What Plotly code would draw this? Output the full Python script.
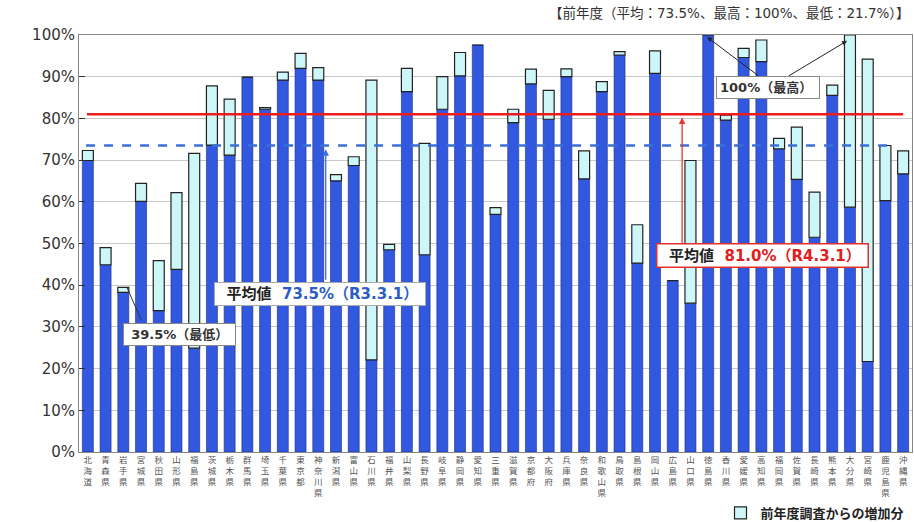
import plotly.graph_objects as go

prefectures = ["北海道","青森県","岩手県","宮城県","秋田県","山形県","福島県","茨城県","栃木県","群馬県",
               "埼玉県","千葉県","東京都","神奈川県","新潟県","富山県","石川県","福井県","山梨県","長野県",
               "岐阜県","静岡県","愛知県","三重県","滋賀県","京都府","大阪府","兵庫県","奈良県","和歌山県",
               "鳥取県","島根県","岡山県","広島県","山口県","徳島県","香川県","愛媛県","高知県","福岡県",
               "佐賀県","長崎県","熊本県","大分県","宮崎県","鹿児島県","沖縄県"]

# previous year (R3.3.1) values, %
prev = [69.9,44.9,38.3,60.1,33.9,43.8,24.9,73.6,71.2,89.9,
        82.2,89.2,92.0,89.2,65.0,68.7,22.1,48.5,86.4,47.3,
        82.2,90.2,97.6,57.0,79.0,88.3,79.8,90.0,65.5,86.4,
        95.2,45.3,90.8,41.1,35.7,100.0,79.6,94.6,93.6,72.7,
        65.4,51.5,85.5,58.7,21.7,60.3,66.7]
# current year (R4.3.1) values, %
curr = [72.3,49.0,39.5,64.4,45.9,62.2,71.6,87.8,84.6,89.9,
        82.6,91.1,95.6,92.2,66.5,70.8,89.2,49.8,92.0,74.0,
        90.0,95.8,97.6,58.6,82.2,91.8,86.7,91.9,72.2,88.8,
        96.0,54.5,96.2,41.1,69.9,100.0,80.8,96.8,98.8,75.2,
        77.9,62.3,88.0,100.0,94.2,73.5,72.2]
increase = [round(c - p, 1) for c, p in zip(curr, prev)]

avg_prev = 73.5
avg_curr = 81.0

x = list(range(len(prefectures)))
ticktext = ["<br>".join(list(p)) for p in prefectures]

BLUE = "#3358e0"
CYAN = "#cdf6f8"

fig = go.Figure()
fig.add_trace(go.Bar(x=x, y=prev, marker=dict(color=BLUE, line=dict(color="#1a2a80", width=0.6)),
                     showlegend=False, width=0.62, hoverinfo="skip"))
fig.add_trace(go.Bar(x=x, y=increase, base=prev, name="<b>前年度調査からの増加分</b>",
                     marker=dict(color=CYAN, line=dict(color="#222222", width=1.2)),
                     width=0.62, showlegend=True))

# average lines
fig.add_shape(type="line", xref="x", yref="y", x0=-0.05, x1=46.0, y0=avg_curr, y1=avg_curr,
              line=dict(color="#ee1c1c", width=2.5), layer="above")
fig.add_shape(type="line", xref="x", yref="y", x0=-0.1, x1=45.5, y0=avg_prev, y1=avg_prev,
              line=dict(color="#3a6fd8", width=2.5, dash="dash"), layer="above")

font_jp = "Noto Sans CJK JP"
font_mix = "DejaVu Sans, Noto Sans CJK JP"
SP = "&nbsp;"

ann = []
# lowest
ann.append(dict(x=2.2, y=39.5, xref="x", yref="y", text="", showarrow=True, arrowhead=0,
                arrowwidth=1, arrowcolor="#333", ax=15, ay=34))
ann.append(dict(x=5.17, y=28.2, xref="x", yref="y", text=f"{SP}<b>39.5%（最低）</b>{SP}", showarrow=False,
                font=dict(size=13, color="#333", family=font_mix), bgcolor="white",
                bordercolor="#888", borderwidth=1, borderpad=3))
# previous average
ann.append(dict(x=13.42, y=72.6, xref="x", yref="y", text="", showarrow=True, arrowhead=2,
                arrowsize=1, arrowwidth=1.3, arrowcolor="#3a6fd8", ax=0, ay=132))
ann.append(dict(x=13.07, y=37.96, xref="x", yref="y",
                text=f"{SP}{SP}<b>平均値{SP}{SP}<span style='color:#2c5cc8'>73.5%（R3.3.1）</span></b>{SP}",
                showarrow=False, font=dict(size=15, color="#222", family=font_mix), bgcolor="white",
                bordercolor="#aaa", borderwidth=1, borderpad=2))
# current average
ann.append(dict(x=33.53, y=80.2, xref="x", yref="y", text="", showarrow=True, arrowhead=2,
                arrowsize=1, arrowwidth=1.3, arrowcolor="#e83a2a", ax=0, ay=127))
ann.append(dict(x=38.04, y=47.1, xref="x", yref="y",
                text=f"{SP}{SP}<b>平均値{SP}{SP}<span style='color:#e02020'>81.0%（R4.3.1）</span></b>{SP}",
                showarrow=False, font=dict(size=15, color="#222", family=font_mix), bgcolor="white",
                bordercolor="#e03030", borderwidth=1.5, borderpad=2))
# highest
ann.append(dict(x=34.94, y=99.5, xref="x", yref="y", text="", showarrow=True, arrowhead=2,
                arrowsize=1, arrowwidth=1, arrowcolor="#222", ax=53, ay=40))
ann.append(dict(x=42.84, y=98.6, xref="x", yref="y", text="", showarrow=True, arrowhead=2,
                arrowsize=1, arrowwidth=1, arrowcolor="#222", ax=-60, ay=36))
ann.append(dict(x=38.35, y=87.3, xref="x", yref="y", text=f"<b>100%（最高）</b>{SP}", showarrow=False,
                font=dict(size=13, color="#333", family=font_mix), bgcolor="white",
                bordercolor="#888", borderwidth=1, borderpad=3))
# top note
ann.append(dict(x=1.0, y=1.052, xref="paper", yref="paper", xanchor="right", yanchor="middle",
                text="【前年度（平均：73.5%、最高：100%、最低：21.7%）】", showarrow=False,
                font=dict(size=13.5, color="#333", family=font_mix)))

fig.update_layout(
    width=914, height=522,
    margin=dict(l=79, r=2, t=35, b=70, autoexpand=False),
    paper_bgcolor="white", plot_bgcolor="white",
    barmode="overlay",
    font=dict(family=font_jp),
    annotations=ann,
    showlegend=True,
    legend=dict(x=0.997, y=-0.146, xanchor="right", yanchor="middle",
                font=dict(size=13, color="#222", family=font_jp),
                bgcolor="rgba(0,0,0,0)", itemwidth=30, borderwidth=0),
)
fig.update_xaxes(range=[-0.5, 46.5], tickmode="array", tickvals=x, ticktext=ticktext,
                 tickfont=dict(size=8.5, color="#555", family=font_jp), tickangle=0,
                 showline=True, linecolor="#888", linewidth=1, mirror=True, showgrid=False,
                 ticks="", automargin=False)
fig.update_yaxes(range=[0, 100], tickvals=list(range(0, 101, 10)),
                 ticktext=[f"{v}%" for v in range(0, 101, 10)],
                 tickfont=dict(size=15, color="#333", family="DejaVu Sans"),
                 showgrid=True, gridcolor="#c8c8c8", gridwidth=1,
                 showline=True, linecolor="#888", linewidth=1, mirror=True,
                 ticks="inside", ticklen=6, tickcolor="#333", zeroline=False, automargin=False)

fig.write_html("out.html")
